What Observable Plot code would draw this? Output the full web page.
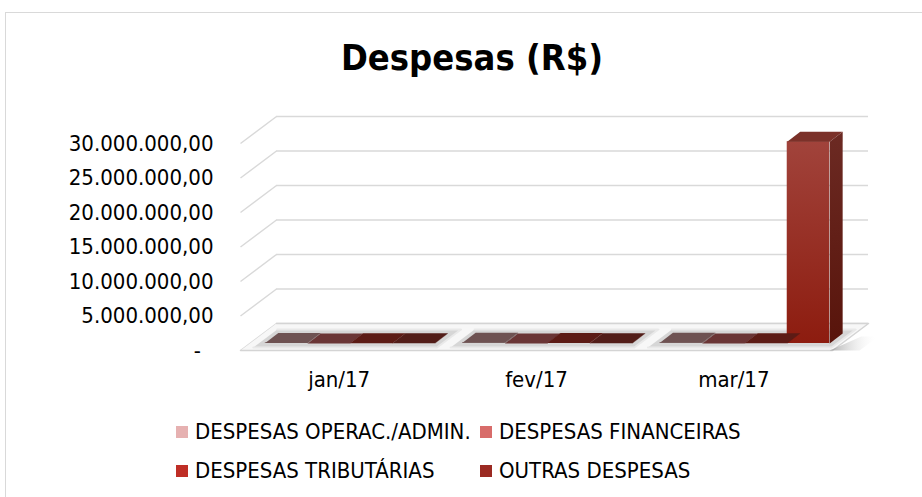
<!DOCTYPE html>
<html><head><meta charset="utf-8">
<script src="https://cdn.jsdelivr.net/npm/d3@7"></script>
<script src="https://cdn.jsdelivr.net/npm/@observablehq/plot@0.6"></script>
<style>
body{margin:0;background:#fff;}
#wrap{position:relative;width:922px;height:497px;overflow:hidden;font-family:"DejaVu Sans Condensed","DejaVu Sans",sans-serif;font-stretch:condensed;color:#000;}
#frame{position:absolute;left:5px;top:12px;width:960px;height:540px;border:1px solid #d9d9d9;}
#title{position:absolute;left:0;top:40px;width:944px;text-align:center;font-weight:bold;font-size:36px;line-height:36px;}
#chart{position:absolute;left:0;top:0;}
.leg{position:absolute;font-size:22px;line-height:22px;display:flex;align-items:center;white-space:nowrap;}
.sw{width:12px;height:12px;margin-right:7px;flex:none;}
</style></head>
<body><div id="wrap"><div id="frame"></div><div id="title">Despesas (R$)</div><div id="chart"></div><div id="legend"></div></div>
<script>
// ---- data ----
const months = ["jan/17", "fev/17", "mar/17"];
const seriesNames = ["DESPESAS OPERAC./ADMIN.", "DESPESAS FINANCEIRAS", "DESPESAS TRIBUTÁRIAS", "OUTRAS DESPESAS"];
const operac = [85000, 92000, 97000];
const financ = [12000, 15000, 9000];
const tribut = [48000, 55000, 51000];
const outras = [20000, 26000, 29250000];
const yTicks = [0, 5000000, 10000000, 15000000, 20000000, 25000000, 30000000];

// ---- styles ----
const legendColors = ["#e6b1b1", "#d86c6a", "#bf2e26", "#9b2a22"];
const slabTop = ["#6e5252", "#6a3535", "#5c1b15", "#521d18"];
const tallTop = "#7b3129";

// ---- geometry ----
const W = 922, H = 400, ML = 240, MR = 90, MT = 143, MB = 50;
const xDom = [-0.5, 2.5], yDom = [0, 30000000];
const kx = (xDom[1] - xDom[0]) / (W - ML - MR); // data units per px
const ky = (yDom[1] - yDom[0]) / (H - MT - MB);
const wallDX = 36, wallDY = 27;
const barDX = 13, barDY = 10;
const midDX = 9, midDY = 7;
const groupW = 0.86, groupC = 0.01;
const shear = wallDX / wallDY;

const values = [operac, financ, tribut, outras];
const bars = [];
months.forEach((m, i) => values.forEach((arr, j) => {
  const x1 = i + groupC - groupW / 2 + j * groupW / 4;
  bars.push({i, j, x1, x2: x1 + groupW / 4, v: arr[i]});
}));
const tall = b => b.v > 1000000;

const tops = [], sides = [];
bars.forEach((b, k) => {
  const ddx = barDX * kx, ddy = barDY * ky;
  [[b.x1, b.v], [b.x2, b.v], [b.x2 + ddx, b.v + ddy], [b.x1 + ddx, b.v + ddy]]
    .forEach(([x, y]) => tops.push({k, x, y, fill: tall(b) ? tallTop : slabTop[b.j]}));
  [[b.x2, 0], [b.x2, b.v], [b.x2 + ddx, b.v + ddy], [b.x2 + ddx, ddy]]
    .forEach(([x, y]) => sides.push({k, x, y, fill: tall(b) ? "url(#gSide)" : slabTop[b.j]}));
});

// floor plate
const floor = [[xDom[0], 0], [xDom[1], 0], [xDom[1] + wallDX * kx, wallDY * ky], [xDom[0] + wallDX * kx, wallDY * ky]]
  .map(([x, y]) => ({x, y}));

// halo around each group of slabs
const halos = [];
months.forEach((m, i) => {
  const gx1 = i + groupC - groupW / 2 - 7 * kx, gx2 = i + groupC + groupW / 2 + 7 * kx;
  const f = 3, bk = 21;
  [[gx1 + f * shear * kx, f * ky], [gx2 + f * shear * kx, f * ky], [gx2 + bk * shear * kx, bk * ky], [gx1 + bk * shear * kx, bk * ky]]
    .forEach(([x, y]) => halos.push({i, x, y}));
});

// shadow to the right of tall bars
const shadows = [];
bars.filter(tall).forEach((b, k) => {
  const y0 = midDY, y1 = midDY + barDY + 4;
  [[b.x2, y0], [b.x2 + 30 * kx, y0], [b.x2 + 30 * kx + (y1 - y0) * shear * kx, y1], [b.x2 + (y1 - y0) * shear * kx + barDX * kx, y1]]
    .forEach(([x, y]) => shadows.push({k, x: x + midDX * kx, y: y * ky - midDY * ky}));
});

const fmt = d => d === 0 ? "-\u00a0\u00a0" : d3.format(",.2f")(d).replace(/,/g, "#").replace(/\./g, ",").replace(/#/g, ".");

function defs() {
  const ns = "http://www.w3.org/2000/svg";
  const g = document.createElementNS(ns, "defs");
  g.innerHTML = `
    <linearGradient id="gFront" x1="0" y1="0" x2="0" y2="1">
      <stop offset="0" stop-color="#a1433b"/><stop offset="1" stop-color="#8d1c0f"/></linearGradient>
    <linearGradient id="gSide" x1="0" y1="0" x2="0" y2="1">
      <stop offset="0" stop-color="#6c2a23"/><stop offset="1" stop-color="#58140b"/></linearGradient>
    <linearGradient id="gShadow" x1="0" y1="0" x2="1" y2="0">
      <stop offset="0" stop-color="#9a9a9a" stop-opacity="0.8"/><stop offset="1" stop-color="#ffffff" stop-opacity="0"/></linearGradient>`;
  return g;
}

const chart = Plot.plot({
  width: W, height: H,
  marginLeft: ML, marginRight: MR, marginTop: MT, marginBottom: MB,
  x: {domain: xDom},
  y: {domain: yDom},
  color: {type: "identity"},
  style: {fontFamily: '"DejaVu Sans Condensed","DejaVu Sans",sans-serif', fontStretch: "condensed", fontSize: "22px", color: "#000", background: "transparent", overflow: "visible"},
  marks: [
    defs,
    // back wall gridlines
    Plot.ruleY(yTicks, {x1: xDom[0], x2: xDom[1], dx: wallDX, dy: -wallDY, stroke: "#d9d9d9", strokeWidth: 1.5}),
    // side wall gridlines
    Plot.link(yTicks, {x1: xDom[0], y1: d => d, x2: xDom[0] + wallDX * kx, y2: d => d + wallDY * ky, stroke: "#d9d9d9", strokeWidth: 1.5}),
    // floor
    Plot.line(floor, {x: "x", y: "y", fill: "#f7f7f7", stroke: "#d4d4d4", strokeWidth: 1.5}),
    Plot.line(halos, {x: "x", y: "y", z: "i", fill: "#d6d6d6", stroke: "#e9e9e9", strokeWidth: 2}),
    Plot.line(shadows, {x: "x", y: "y", z: "k", fill: "url(#gShadow)", stroke: "none"}),
    // bars (front, top, side) with mid-depth offset
    Plot.rect(bars, {x1: "x1", x2: "x2", y1: 0, y2: "v", fill: b => tall(b) ? "url(#gFront)" : slabTop[b.j], dx: midDX, dy: -midDY}),
    Plot.line(tops, {x: "x", y: "y", z: "k", fill: "fill", stroke: "none", dx: midDX, dy: -midDY}),
    Plot.line(sides, {x: "x", y: "y", z: "k", fill: "fill", stroke: "none", dx: midDX, dy: -midDY}),
    // axes
    Plot.axisY(yTicks, {tickSize: 0, tickPadding: 27, tickFormat: fmt, fontSize: 22, label: null}),
    Plot.axisX([0, 1, 2], {tickSize: 0, tickPadding: 21, tickFormat: i => months[i], fontSize: 22, letterSpacing: "2px", label: null})
  ]
});
document.getElementById("chart").appendChild(chart);

// legend
const legPos = [[176, 421], [480, 421], [176, 460], [480, 460]];
const legend = document.getElementById("legend");
seriesNames.forEach((name, j) => {
  const d = document.createElement("div");
  d.className = "leg";
  d.style.left = legPos[j][0] + "px";
  d.style.top = legPos[j][1] + "px";
  d.innerHTML = `<span class="sw" style="background:${legendColors[j]}"></span><span>${name}</span>`;
  legend.appendChild(d);
});
</script>
</body></html>
